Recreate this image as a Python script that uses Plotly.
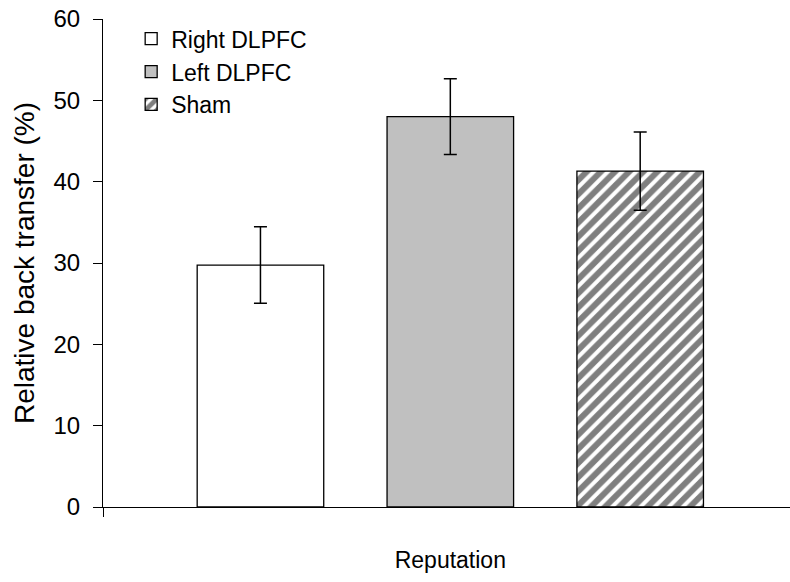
import plotly.graph_objects as go

category = ["Reputation"]
series_names = ["Right DLPFC", "Left DLPFC", "Sham"]
values = [29.75, 48.0, 41.3]
errors = [4.7, 4.65, 4.8]
y_ticks = [0, 10, 20, 30, 40, 50, 60]

FONT = "Liberation Sans, Arial, sans-serif"

styles = [
    dict(color="white", pattern=None),
    dict(color="#C0C0C0", pattern=None),
    dict(color="white", pattern=dict(shape="/", size=10, solidity=0.6,
                                     fgcolor="black", bgcolor="white", fillmode="overlay")),
]

fig = go.Figure()
for name, v, e, st in zip(series_names, values, errors, styles):
    marker = dict(color=st["color"], line=dict(color="black", width=1.3))
    if st["pattern"] is not None:
        marker["pattern"] = st["pattern"]
    fig.add_trace(go.Bar(
        x=category, y=[v], name=name, legendgroup=name,
        marker=marker,
        error_y=dict(type="data", array=[e], visible=True, color="black",
                     thickness=1.5, width=6.5),
    ))

fig.update_layout(
    width=790, height=582,
    margin=dict(l=103, r=0, t=19, b=75),
    paper_bgcolor="white", plot_bgcolor="white",
    font=dict(family=FONT, size=23, color="black"),
    barmode="group", bargap=0.18, bargroupgap=0.3335,
    showlegend=True,
    legend=dict(x=0.041, y=1.0037, xanchor="left", yanchor="top",
                bgcolor="rgba(0,0,0,0)", font=dict(size=23),
                tracegroupgap=0),
    xaxis=dict(type="category", range=[-0.5, 0.489], automargin=False,
               showline=True, linecolor="black", linewidth=1,
               ticks="outside", tickson="boundaries", ticklen=9,
               tickcolor="black", ticklabelstandoff=32,
               showgrid=False, zeroline=False),
    yaxis=dict(range=[0, 60], tickvals=y_ticks, showline=True, automargin=False,
               linecolor="black", linewidth=1, ticks="outside", ticklen=9,
               tickcolor="black", showgrid=False, zeroline=False,
               tickfont=dict(size=24), ticklabelstandoff=8,
               ticklabeloverflow="allow",
               title=dict(text="Relative back transfer (%)", standoff=10)),
)

fig.write_html("out.html",
               config={"displayModeBar": False},
               post_script="document.body.style.margin='0';")
